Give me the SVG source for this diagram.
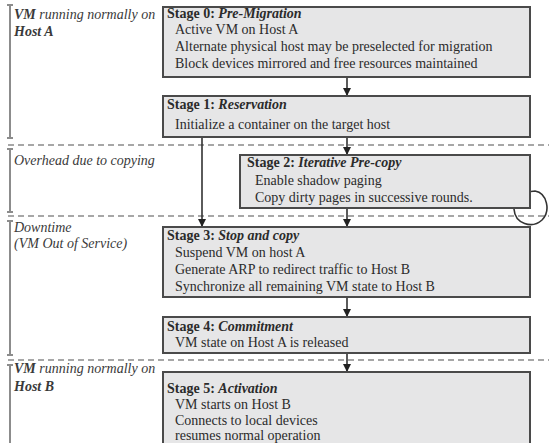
<svg xmlns="http://www.w3.org/2000/svg" width="549" height="443" viewBox="0 0 549 443" font-family="'Liberation Serif', 'Times New Roman', Times, serif">
  <style>
    text { font-size: 14px; fill: #2b2b2b; }
    .title { font-weight: bold; }
    .it { font-style: italic; }
    .bi { font-style: italic; font-weight: bold; }
    .lbl { fill: #3a3a3a; }
    .box { fill: #e6e6e7; stroke: #4a4a4a; stroke-width: 2; }
    .sep { stroke: #8a8a8a; stroke-width: 1.5; stroke-dasharray: 6 4; fill: none; }
    .bracket { stroke: #8c8c8c; stroke-width: 2; fill: none; }
    .flow { stroke: #333; stroke-width: 1.6; fill: none; marker-end: url(#head); }
  </style>
  <defs>
    <marker id="head" viewBox="0 0 10 10" refX="10" refY="5" markerWidth="10" markerHeight="8" orient="auto" markerUnits="userSpaceOnUse">
      <path d="M0,0 L10,5 L0,10 z" fill="#222"/>
    </marker>
    <marker id="headL" viewBox="0 0 10 10" refX="10" refY="5" markerWidth="12" markerHeight="9" orient="auto" markerUnits="userSpaceOnUse">
      <path d="M0,0 L10,5 L0,10 z" fill="#222"/>
    </marker>
  </defs>

  <!-- phase separators -->
  <g id="separators">
    <line class="sep" x1="8" y1="145" x2="549" y2="145"/>
    <line class="sep" x1="8" y1="216" x2="549" y2="216"/>
    <line class="sep" x1="8" y1="360" x2="549" y2="360"/>
  </g>

  <!-- phase brackets and labels -->
  <g id="phase-a">
    <path class="bracket" d="M7,5 H13 M10,5 V138 M7,138 H13"/>
    <text x="14" y="19" class="lbl"><tspan class="bi">VM</tspan><tspan class="it"> running normally on</tspan></text>
    <text x="14" y="36" class="bi lbl">Host A</text>
  </g>
  <g id="phase-copy">
    <path class="bracket" d="M7,149 H13 M10,149 V212 M7,212 H13"/>
    <text x="14" y="165" class="it lbl">Overhead due to copying</text>
  </g>
  <g id="phase-down">
    <path class="bracket" d="M7,221 H13 M10,221 V355 M7,355 H13"/>
    <text x="14" y="232" class="it lbl">Downtime</text>
    <text x="14" y="248" class="it lbl">(VM Out of Service)</text>
  </g>
  <g id="phase-b">
    <path class="bracket" d="M7,365 H13 M10,365 V443"/>
    <text x="14" y="373" class="lbl"><tspan class="bi">VM</tspan><tspan class="it"> running normally on</tspan></text>
    <text x="14" y="391" class="bi lbl">Host B</text>
  </g>

  <!-- connectors -->
  <g id="connectors">
    <line class="flow" x1="347" y1="77" x2="347" y2="96"/>
    <line class="flow" x1="347" y1="137" x2="347" y2="155"/>
    <line class="flow" x1="202" y1="137" x2="202" y2="227"/>
    <line class="flow" x1="347" y1="208" x2="347" y2="227"/>
    <line class="flow" x1="347" y1="297" x2="347" y2="317"/>
    <line class="flow" x1="347" y1="353" x2="347" y2="372"/>
    <path d="M514,209 C515,224 532,229 542,220 C551,211 547,193 535,191 L519,193" fill="none" stroke="#333" stroke-width="1.6" marker-end="url(#headL)"/>
  </g>

  <g id="stage0">
    <rect class="box" x="163" y="7" width="367" height="70"/>
    <text x="167" y="18"><tspan class="title">Stage 0: </tspan><tspan class="bi">Pre-Migration</tspan></text>
    <text x="175" y="34">Active VM on Host A</text>
    <text x="175" y="51">Alternate physical host may be preselected for migration</text>
    <text x="175" y="68">Block devices mirrored and free resources maintained</text>
  </g>

  <g id="stage1">
    <rect class="box" x="163" y="96" width="367" height="41"/>
    <text x="167" y="109"><tspan class="title">Stage 1: </tspan><tspan class="bi">Reservation</tspan></text>
    <text x="175" y="129">Initialize a container on the target host</text>
  </g>

  <g id="stage2">
    <rect class="box" x="240" y="155" width="290" height="53"/>
    <text x="247" y="167"><tspan class="title">Stage 2: </tspan><tspan class="bi">Iterative Pre-copy</tspan></text>
    <text x="255" y="185">Enable shadow paging</text>
    <text x="255" y="202">Copy dirty pages in successive rounds.</text>
  </g>

  <g id="stage3">
    <rect class="box" x="163" y="227" width="367" height="70"/>
    <text x="167" y="240"><tspan class="title">Stage 3: </tspan><tspan class="bi">Stop and copy</tspan></text>
    <text x="175" y="257">Suspend VM on host A</text>
    <text x="175" y="274">Generate ARP to redirect traffic to Host B</text>
    <text x="175" y="291">Synchronize all remaining VM state to Host B</text>
  </g>

  <g id="stage4">
    <rect class="box" x="163" y="317" width="367" height="36"/>
    <text x="167" y="331"><tspan class="title">Stage 4: </tspan><tspan class="bi">Commitment</tspan></text>
    <text x="175" y="347">VM state on Host A is released</text>
  </g>

  <g id="stage5">
    <rect class="box" x="163" y="372" width="367" height="80"/>
    <text x="167" y="393"><tspan class="title">Stage 5: </tspan><tspan class="bi">Activation</tspan></text>
    <text x="175" y="409">VM starts on Host B</text>
    <text x="175" y="425">Connects to local devices</text>
    <text x="175" y="440">resumes normal operation</text>
  </g>
</svg>
